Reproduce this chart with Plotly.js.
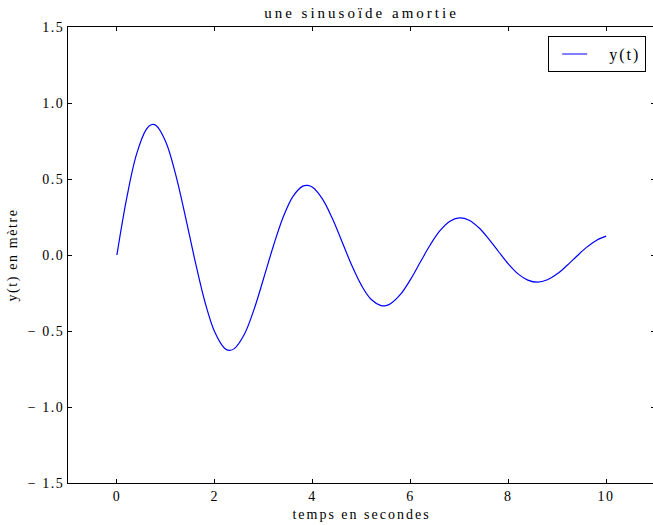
<!DOCTYPE html>
<html>
<head>
<meta charset="utf-8">
<script src="https://cdn.plot.ly/plotly-3.0.1.min.js"></script>
<style>
html, body { margin: 0; padding: 0; background: #fff; }
</style>
</head>
<body>
<div id="chart" style="width:655px;height:525px;"></div>
<script>
var tValues = [0,0.2,0.4,0.6,0.7,0.8,1.0,1.2,1.4,1.6,1.8,2.0,2.2,2.3,2.4,2.6,2.8,3.0,3.2,3.4,3.6,3.8,3.9,4.0,4.2,4.4,4.6,4.8,5.0,5.2,5.4,5.5,5.6,5.8,6.0,6.2,6.4,6.6,6.8,7.0,7.2,7.4,7.6,7.8,8.0,8.2,8.4,8.6,8.8,9.0,9.2,9.4,9.6,9.8,10.0];
var yValues = [0,0.374,0.662,0.827,0.857,0.852,0.744,0.531,0.253,-0.042,-0.309,-0.507,-0.613,-0.627,-0.616,-0.525,-0.361,-0.153,0.061,0.250,0.386,0.453,0.458,0.445,0.369,0.243,0.089,-0.067,-0.200,-0.293,-0.333,-0.333,-0.319,-0.258,-0.162,-0.048,0.064,0.158,0.221,0.244,0.229,0.179,0.106,0.023,-0.058,-0.124,-0.165,-0.179,-0.163,-0.124,-0.069,-0.008,0.050,0.096,0.124];
var xTickVals = [0,2,4,6,8,10];
var xTickText = ["0","2","4","6","8","10"];
var yTickVals = [-1.5,-1.0,-0.5,0.0,0.5,1.0,1.5];
var yTickText = ["\u2212 1.5","\u2212 1.0","\u2212 0.5","0.0","0.5","1.0","1.5"];
var seriesName = "y(t)";
var titleText = "une sinusoïde amortie";
var xTitle = "temps en secondes";
var yTitle = "y(t) en mètre";

var font = "'Liberation Serif', 'Times New Roman', serif";

var trace = {
  x: tValues, y: yValues, type: 'scatter', mode: 'lines', name: seriesName,
  line: {color: '#0000ff', width: 1.2, shape: 'spline', smoothing: 1}
};

var axisCommon = {
  showline: true, linecolor: '#000', linewidth: 1, mirror: 'ticks',
  ticks: 'inside', ticklen: 4, tickcolor: '#000', tickwidth: 1,
  showgrid: false, zeroline: false,
  tickfont: {family: font, size: 14, color: '#000'}
};

var layout = {
  width: 655, height: 525,
  margin: {l: 68, r: 0, t: 27, b: 42},
  paper_bgcolor: '#fff', plot_bgcolor: '#fff',
  font: {family: font, color: '#000'},
  title: {text: titleText, font: {family: font, size: 15, color: '#000'},
          x: 0.5, xref: 'paper', y: 1 - 13/525, yref: 'container', yanchor: 'middle'},
  xaxis: Object.assign({}, axisCommon, {
    range: [-1, 11], tickmode: 'array', tickvals: xTickVals, ticktext: xTickText,
    title: {text: xTitle, font: {family: font, size: 14, color: '#000'}, standoff: 6}
  }),
  yaxis: Object.assign({}, axisCommon, {
    range: [-1.5, 1.5], tickmode: 'array', tickvals: yTickVals, ticktext: yTickText,
    title: {text: yTitle, font: {family: font, size: 14, color: '#000'}, standoff: 14}
  }),
  showlegend: true,
  legend: {x: 0.818, y: 0.98, xanchor: 'left', yanchor: 'top',
           bgcolor: '#fff', bordercolor: '#000', borderwidth: 1, itemwidth: 50,
           font: {family: font, size: 16, color: '#000'}}
};

function spacing(sel, px) {
  document.querySelectorAll(sel).forEach(function (el) {
    el.setAttribute('letter-spacing', px);
    el.style.letterSpacing = px + 'px';
  });
}

Plotly.newPlot('chart', [trace], layout, {displayModeBar: false, staticPlot: true}).then(function () {
  spacing('.gtitle', 3);
  spacing('.xtitle', 2);
  spacing('.ytitle', 1.6);
  spacing('.xtick text', 1.5);
  spacing('.ytick text', 1.5);
  spacing('.legendtext', 2);
  document.querySelectorAll('.legend .legendlines path').forEach(function (p) {
    p.setAttribute('d', 'M13,0h25');
  });
  document.querySelectorAll('.legend rect.bg').forEach(function (r) {
    r.setAttribute('width', 97);
  });
});
</script>
</body>
</html>
